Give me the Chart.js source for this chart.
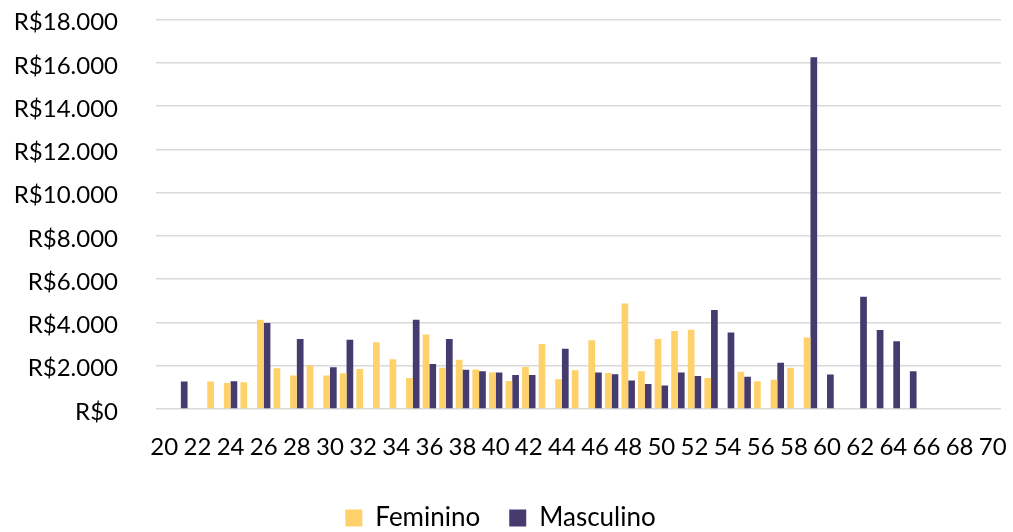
<!DOCTYPE html>
<html>
<head>
<meta charset="utf-8">
<script src="https://cdn.jsdelivr.net/npm/chart.js@4"></script>
<style>
  html, body { margin: 0; padding: 0; background: #fff; }
  #wrap { width: 1013px; height: 532px; }
</style>
</head>
<body>
<div id="wrap"><canvas id="grafico"></canvas></div>
<script>
// idades 20..70
const idades = [];
for (let i = 20; i <= 70; i++) idades.push(String(i));

const feminino = [
    null, null, null, 1270, 1200, 1240, 4130, 1880, 1550, 2010,   // 20-29
    1550, 1650, 1850, 3090, 2300, 1430, 3440, 1910, 2280, 1830,   // 30-39
    1690, 1290, 1940, 3000, 1380, 1790, 3180, 1660, 4870, 1750,   // 40-49
    3240, 3600, 3660, 1430, null, 1720, 1280, 1350, 1910, 3310,   // 50-59
    null, null, null, null, null, null, null, null, null, null,   // 60-69
    null                                                          // 70
];

const masculino = [
    null, 1270, null, null, 1280, null, 3970, null, 3230, null,   // 20-29
    1930, 3200, null, null, null, 4130, 2080, 3240, 1810, 1750,   // 30-39
    1690, 1570, 1570, null, 2780, null, 1690, 1610, 1320, 1150,   // 40-49
    1090, 1690, 1520, 4580, 3540, 1490, null, 2140, null, 16250,  // 50-59
    1600, null, 5190, 3650, 3130, 1750, null, null, null, null,   // 60-69
    null                                                          // 70
];

const fonte = "Lato, 'Open Sans', sans-serif";

const ctx = document.getElementById('grafico').getContext('2d');
const grafico = new Chart(ctx, {
    type: 'bar',
    data: {
        labels: idades,
        datasets: [
            {
                label: 'Feminino',
                data: feminino,
                backgroundColor: '#FFD16B',
                borderWidth: 0,
                categoryPercentage: 0.81,
                barPercentage: 1.0
            },
            {
                label: 'Masculino',
                data: masculino,
                backgroundColor: '#463B6E',
                borderWidth: 0,
                categoryPercentage: 0.81,
                barPercentage: 1.0
            }
        ]
    },
    options: {
        responsive: true,
        maintainAspectRatio: false,
        animation: false,
        layout: {
            padding: { top: 0, right: 12, left: 0, bottom: 0 }
        },
        plugins: {
            tooltip: { enabled: false },
            legend: {
                position: 'bottom',
                maxHeight: 56,
                labels: {
                    boxWidth: 17,
                    boxHeight: 17,
                    padding: 29,
                    color: '#000',
                    font: { family: fonte, size: 26 }
                }
            }
        },
        scales: {
            x: {
                grid: { display: false },
                border: { display: false },
                ticks: {
                    autoSkip: false,
                    maxRotation: 0,
                    padding: 16,
                    color: '#000',
                    font: { family: fonte, size: 24 },
                    callback: function (val, idx) {
                        return idx % 2 === 0 ? this.getLabelForValue(val) : '';
                    }
                },
                afterFit: function (scale) {
                    scale.height = 67;
                    scale.paddingLeft = 0;
                    scale.paddingRight = 0;
                }
            },
            y: {
                min: 0,
                max: 18000,
                grid: { color: '#d9d9d9', lineWidth: 1.5, drawTicks: false },
                border: { display: false },
                ticks: {
                    stepSize: 2000,
                    padding: 38,
                    labelOffset: 3,
                    color: '#000',
                    font: { family: fonte, size: 24 },
                    callback: function (v) {
                        return 'R$' + v.toString().replace(/\B(?=(\d{3})+(?!\d))/g, '.');
                    }
                },
                afterFit: function (scale) {
                    scale.width = 156;
                    scale.paddingTop = 19.5;
                    scale.paddingBottom = 0;
                }
            }
        }
    }
});
</script>
</body>
</html>
